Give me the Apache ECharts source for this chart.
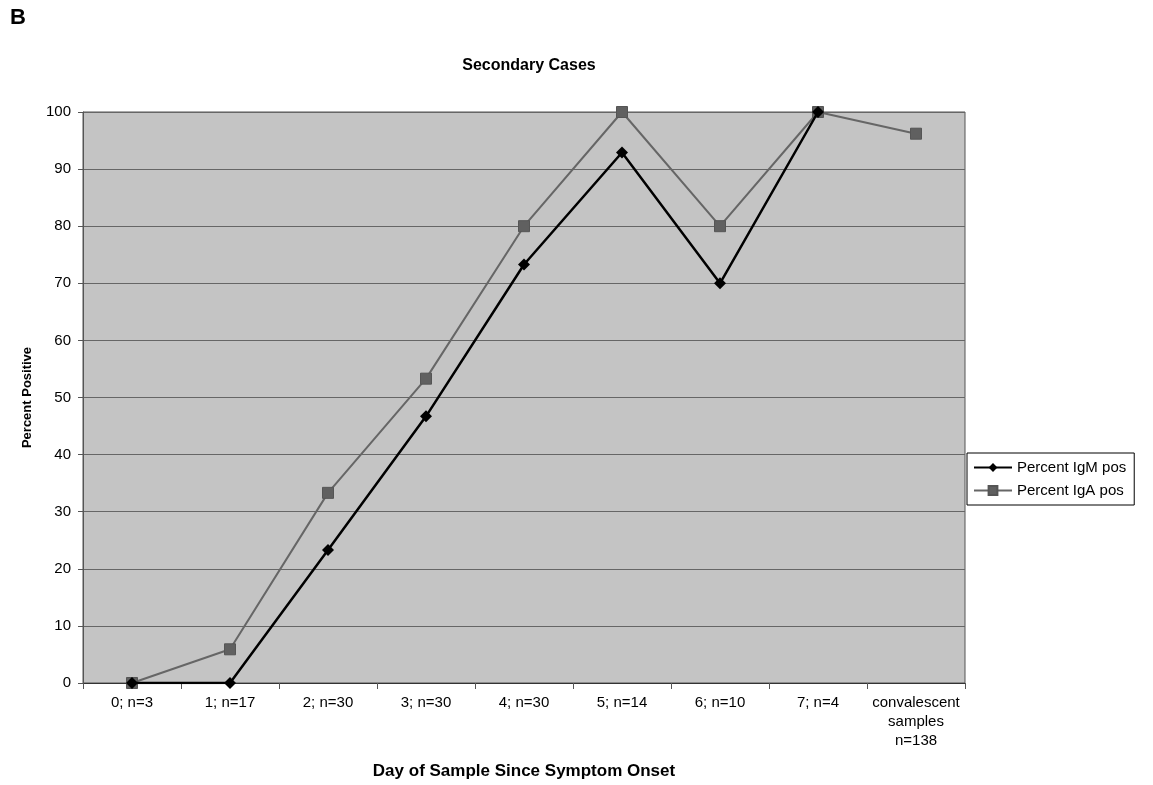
<!DOCTYPE html>
<html>
<head>
<meta charset="utf-8">
<style>
html,body{margin:0;padding:0;background:#fff;}
#chart{width:1153px;height:785px;}
</style>
<script src="https://cdn.jsdelivr.net/npm/echarts@6/dist/echarts.min.js"></script>
</head>
<body>
<div id="chart"></div>
<script>
var categories = ['0; n=3','1; n=17','2; n=30','3; n=30','4; n=30','5; n=14','6; n=10','7; n=4','convalescent\nsamples\nn=138'];
var igm = [0, 0, 23.3, 46.7, 73.3, 92.9, 70, 100, null];
var iga = [0, 5.9, 33.3, 53.3, 80, 100, 80, 100, 96.2];
var yTicks = [0,10,20,30,40,50,60,70,80,90,100];

var chart = echarts.init(document.getElementById('chart'));
var font = 'Liberation Sans, Arial, sans-serif';
chart.setOption({
  animation: false,
  backgroundColor: '#ffffff',
  graphic: [{
    type: 'text', left: 10, top: 7,
    style: {text: 'B', font: 'bold 22px ' + font, fill: '#000'}
  }],
  title: {
    text: 'Secondary Cases', left: 524, top: 53, textAlign: 'center',
    textStyle: {fontFamily: font, fontWeight: 'bold', fontSize: 16, color: '#000'}
  },
  legend: {
    orient: 'vertical', left: 967, top: 453,
    itemWidth: 38, itemHeight: 11, itemGap: 8,
    borderColor: '#000', borderWidth: 1, padding: [7, 8, 7, 6],
    backgroundColor: '#fff',
    textStyle: {fontFamily: font, fontSize: 15, color: '#000'},
    data: [{name: 'Percent IgM pos'}, {name: 'Percent IgA pos'}]
  },
  grid: {left: 83, right: 188, top: 112, bottom: 98, show: true, backgroundColor: '#c4c4c4', borderColor: '#555', borderWidth: 1},
  xAxis: {
    type: 'category', data: categories, boundaryGap: true,
    name: 'Day of Sample Since Symptom Onset', nameLocation: 'middle', nameGap: 80,
    nameTextStyle: {fontFamily: font, fontWeight: 'bold', fontSize: 17, color: '#000'},
    axisLine: {lineStyle: {color: '#333', width: 1}},
    axisTick: {show: true, alignWithLabel: false, length: 6, lineStyle: {color: '#555'}},
    axisLabel: {fontFamily: font, fontSize: 15, color: '#000', margin: 10, lineHeight: 19, interval: 0}
  },
  yAxis: {
    type: 'value', min: 0, max: 100, interval: 10,
    name: 'Percent Positive', nameLocation: 'middle', nameGap: 49,
    nameTextStyle: {fontFamily: font, fontWeight: 'bold', fontSize: 13, color: '#000'},
    axisLine: {show: true, lineStyle: {color: '#555'}},
    axisTick: {show: true, length: 5, lineStyle: {color: '#555'}},
    axisLabel: {fontFamily: font, fontSize: 15, color: '#000', margin: 12,
      formatter: function(v){ return yTicks.indexOf(v) >= 0 ? String(v) : ''; }},
    splitLine: {show: true, lineStyle: {color: '#666', width: 1}}
  },
  series: [
    {
      name: 'Percent IgM pos', type: 'line', data: igm,
      symbol: 'diamond', symbolSize: 12,
      lineStyle: {color: '#000', width: 2.5},
      itemStyle: {color: '#000'},
      z: 3
    },
    {
      name: 'Percent IgA pos', type: 'line', data: iga,
      symbol: 'rect', symbolSize: 11,
      lineStyle: {color: '#666', width: 2},
      itemStyle: {color: '#606060', borderColor: '#555', borderWidth: 1},
      z: 2
    }
  ]
});
</script>
</body>
</html>
